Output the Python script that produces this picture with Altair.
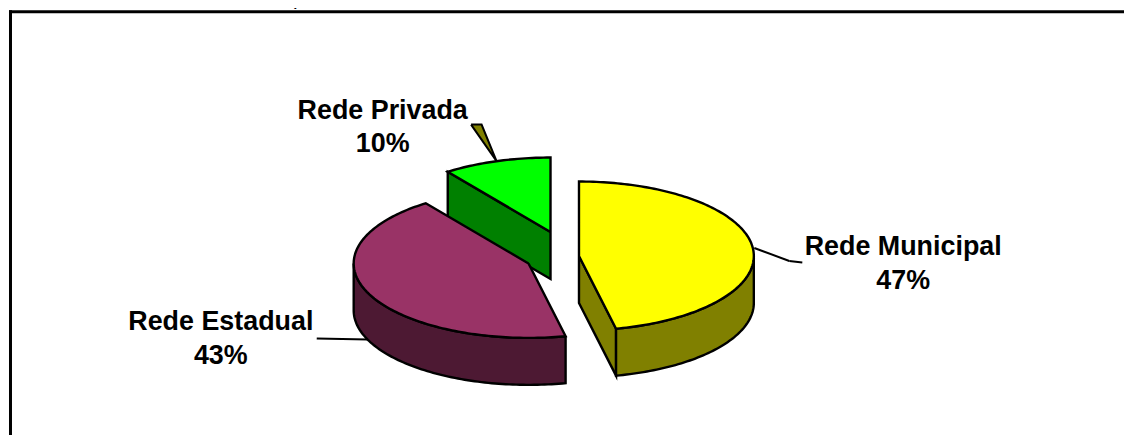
import numpy as np
import pandas as pd
import altair as alt

# --- data -------------------------------------------------------------
categories = ["Rede Municipal", "Rede Estadual", "Rede Privada"]
shares = [46.6, 43.4, 10.0]
percent_labels = ["47%", "43%", "10%"]
title_tail = "ensino, 2013"

# --- styles / layout ---------------------------------------------------
W, H = 1117, 427
OFF = 8
top_colors = {"Rede Municipal": "#FFFF00", "Rede Estadual": "#993366", "Rede Privada": "#00FF00"}
side_colors = {"Rede Municipal": "#808000", "Rede Estadual": "#4D1933", "Rede Privada": "#008000"}
apex = {"Rede Municipal": (579.5, 256), "Rede Estadual": (529, 263.5), "Rede Privada": (551, 232)}
RX, RY, DEPTH = 175, 74.5, 47

edges = np.cumsum([0] + shares) / 100 * 2 * np.pi
spans = {c: (edges[i], edges[i + 1]) for i, c in enumerate(categories)}


def rim(cat, t, drop=0.0):
    ax, ay = apex[cat]
    return (ax + RX * np.sin(t), ay - RY * np.cos(t) + drop)


def arc(cat, t0, t1, drop=0.0):
    n = max(3, int(abs(t1 - t0) / 0.02))
    return [rim(cat, t, drop) for t in np.linspace(t0, t1, n)]


def poly(points, fill, width=2.4):
    df = pd.DataFrame(
        {
            "x": [p[0] - OFF for p in points],
            "y": [p[1] - OFF for p in points],
            "i": np.arange(len(points)),
        }
    )
    return (
        alt.Chart(df)
        .mark_line(fill=fill, stroke="black", strokeWidth=width, strokeJoin="miter", strokeMiterLimit=6, clip=False)
        .encode(
            x=alt.X("x:Q", scale=alt.Scale(domain=[0, W], nice=False, zero=False), axis=None),
            y=alt.Y("y:Q", scale=alt.Scale(domain=[H, 0], nice=False, zero=False), axis=None),
            order="i:Q",
        )
    )


def slice_layers(cat, wall_arc=None, radial=None):
    t0, t1 = spans[cat]
    a = apex[cat]
    out = []
    if radial is not None:
        r = rim(cat, radial)
        r2 = rim(cat, radial, DEPTH)
        out.append(poly([a, r, r2, (a[0], a[1] + DEPTH), a], side_colors[cat]))
    if wall_arc is not None:
        w0, w1 = wall_arc
        out.append(poly(arc(cat, w0, w1) + arc(cat, w1, w0, DEPTH) + [rim(cat, w0)], side_colors[cat]))
    top = [a] + arc(cat, t0, t1) + [a]
    out.append(poly(top, top_colors[cat]))
    return out


t_m = spans["Rede Municipal"]
t_e = spans["Rede Estadual"]
t_p = spans["Rede Privada"]

layers = []
layers += slice_layers("Rede Privada", radial=t_p[0])
layers += slice_layers("Rede Estadual", wall_arc=(t_e[0], 1.5 * np.pi))
layers += slice_layers("Rede Municipal", wall_arc=(0.5 * np.pi, t_m[1]), radial=t_m[1])

# leader lines
layers.append(
    alt.Chart(pd.DataFrame({"a": [0]})).mark_rule(stroke="black", strokeWidth=2).encode(
        x=alt.value(755 - OFF), x2=alt.value(790 - OFF), y=alt.value(248 - OFF), y2=alt.value(261 - OFF)
    )
)
layers.append(
    alt.Chart(pd.DataFrame({"a": [0]})).mark_rule(stroke="black", strokeWidth=2).encode(
        x=alt.value(790 - OFF), x2=alt.value(803 - OFF), y=alt.value(261 - OFF), y2=alt.value(262.5 - OFF)
    )
)
layers.append(
    alt.Chart(pd.DataFrame({"a": [0]})).mark_rule(stroke="black", strokeWidth=2).encode(
        x=alt.value(317 - OFF), x2=alt.value(368 - OFF), y=alt.value(338.5 - OFF), y2=alt.value(339.5 - OFF)
    )
)
layers.append(poly([(471.5, 124.5), (482, 124.5), (497, 161), (471.5, 124.5)], "#808000", 2))

FS = 26.9


def label(text, cx, base):
    return (
        alt.Chart(pd.DataFrame({"t": [text]}))
        .mark_text(font="Liberation Sans", fontWeight="bold", fontSize=FS, align="center", baseline="alphabetic", color="black")
        .encode(text="t:N", x=alt.value(cx - OFF), y=alt.value(base - OFF))
    )


pos = {"Rede Municipal": (904, 255, 289), "Rede Estadual": (221, 330, 364), "Rede Privada": (383, 119, 152)}
for c, p in zip(categories, percent_labels):
    cx, b1, b2 = pos[c]
    layers.append(label(c, cx, b1))
    layers.append(label(p, cx, b2))

layers.append(
    alt.Chart(pd.DataFrame({"t": [title_tail]}))
    .mark_text(font="Liberation Sans", fontSize=31.4, align="left", baseline="alphabetic", color="black")
    .encode(text="t:N", x=alt.value(199 - OFF), y=alt.value(5 - OFF))
)

# frame
layers.append(
    alt.Chart(pd.DataFrame({"a": [0]})).mark_rule(stroke="black", strokeWidth=3).encode(
        x=alt.value(10.5 - OFF), y=alt.value(10 - OFF), y2=alt.value(H + 8)
    )
)
layers.append(
    alt.Chart(pd.DataFrame({"a": [0]})).mark_rule(stroke="black", strokeWidth=3).encode(
        x=alt.value(9 - OFF), x2=alt.value(W + 7), y=alt.value(11.5 - OFF)
    )
)

chart = (
    alt.layer(*layers)
    .properties(width=W, height=H, padding=0, background="white",
                autosize=alt.AutoSizeParams(type="none"))
    .configure_view(stroke=None)
)

chart.save("out.html", embed_options={"renderer": "svg", "actions": False})
